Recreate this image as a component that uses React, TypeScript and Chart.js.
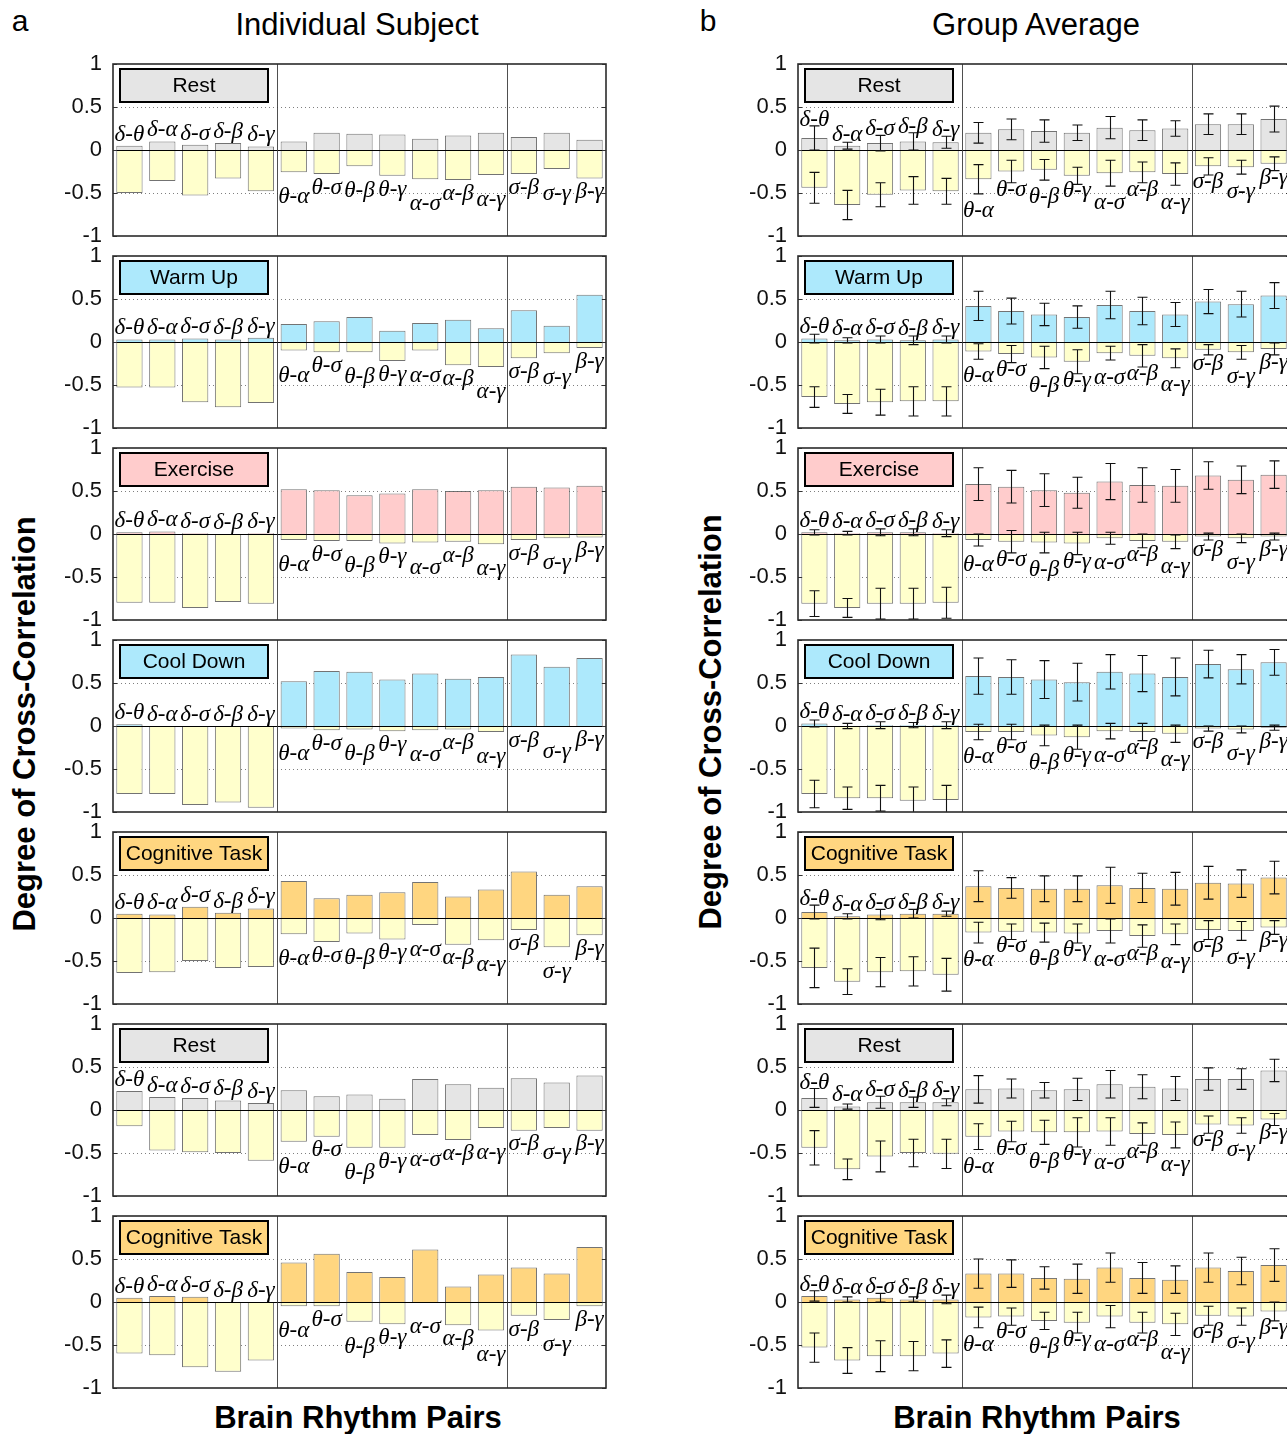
import React, { useEffect, useRef } from 'react';
import { Chart, registerables } from 'chart.js';

Chart.register(...registerables);

// ---------------- DATA ----------------
const pairLabels = ['δ-θ', 'δ-α', 'δ-σ', 'δ-β', 'δ-γ', 'θ-α', 'θ-σ', 'θ-β', 'θ-γ', 'α-σ', 'α-β', 'α-γ', 'σ-β', 'σ-γ', 'β-γ'];
const yTickValues = [-1, -0.5, 0, 0.5, 1];
const stateSequence = ['Rest', 'Warm Up', 'Exercise', 'Cool Down', 'Cognitive Task', 'Rest', 'Cognitive Task'];
const groupBreaks = [5, 12];
const dottedLevels = [-0.5, 0.5];

// Individual subject (column a)
const indRest1Pos = [0.05, 0.10, 0.06, 0.08, 0.04, 0.10, 0.20, 0.19, 0.18, 0.13, 0.17, 0.20, 0.15, 0.20, 0.12];
const indRest1Neg = [-0.50, -0.36, -0.53, -0.33, -0.48, -0.26, -0.28, -0.19, -0.30, -0.34, -0.35, -0.29, -0.28, -0.22, -0.33];
const indWarmPos = [0.03, 0.03, 0.04, 0.03, 0.05, 0.21, 0.24, 0.29, 0.13, 0.22, 0.26, 0.16, 0.37, 0.19, 0.55];
const indWarmNeg = [-0.53, -0.53, -0.70, -0.76, -0.71, -0.10, -0.12, -0.12, -0.22, -0.10, -0.27, -0.29, -0.19, -0.13, -0.07];
const indExercisePos = [0.02, 0.03, 0.01, 0.00, 0.01, 0.52, 0.51, 0.45, 0.47, 0.52, 0.50, 0.51, 0.55, 0.54, 0.56];
const indExerciseNeg = [-0.80, -0.80, -0.86, -0.79, -0.81, -0.07, -0.08, -0.08, -0.11, -0.10, -0.09, -0.12, -0.07, -0.05, -0.04];
const indCoolPos = [0.02, 0.00, 0.00, 0.00, 0.00, 0.52, 0.64, 0.63, 0.54, 0.61, 0.55, 0.57, 0.83, 0.69, 0.79];
const indCoolNeg = [-0.79, -0.79, -0.92, -0.89, -0.95, -0.03, -0.05, -0.04, -0.06, -0.05, -0.04, -0.07, -0.01, -0.01, 0.00];
const indCog1Pos = [0.05, 0.04, 0.13, 0.06, 0.11, 0.43, 0.23, 0.27, 0.30, 0.42, 0.25, 0.33, 0.54, 0.27, 0.37];
const indCog1Neg = [-0.64, -0.63, -0.50, -0.58, -0.57, -0.19, -0.28, -0.18, -0.25, -0.08, -0.31, -0.26, -0.14, -0.34, -0.20];
const indRest2Pos = [0.22, 0.15, 0.14, 0.11, 0.08, 0.23, 0.16, 0.18, 0.13, 0.36, 0.30, 0.26, 0.37, 0.32, 0.40];
const indRest2Neg = [-0.19, -0.47, -0.49, -0.50, -0.59, -0.37, -0.31, -0.44, -0.44, -0.29, -0.35, -0.21, -0.24, -0.21, -0.24];
const indCog2Pos = [0.05, 0.07, 0.06, 0.00, 0.00, 0.46, 0.56, 0.35, 0.29, 0.61, 0.18, 0.32, 0.40, 0.33, 0.64];
const indCog2Neg = [-0.60, -0.62, -0.76, -0.81, -0.68, -0.05, -0.05, -0.23, -0.26, 0.00, -0.27, -0.33, -0.16, -0.21, -0.05];

// Group average (column b)
const grpRest1Pos = [0.14, 0.05, 0.08, 0.10, 0.09, 0.20, 0.24, 0.22, 0.20, 0.26, 0.23, 0.25, 0.30, 0.30, 0.36];
const grpRest1PosErr = [0.14, 0.04, 0.09, 0.10, 0.07, 0.12, 0.12, 0.13, 0.09, 0.13, 0.12, 0.09, 0.12, 0.12, 0.15];
const grpRest1Neg = [-0.44, -0.64, -0.52, -0.47, -0.48, -0.34, -0.25, -0.23, -0.30, -0.27, -0.26, -0.28, -0.19, -0.20, -0.16];
const grpRest1NegErr = [0.18, 0.17, 0.14, 0.16, 0.15, 0.17, 0.13, 0.12, 0.10, 0.15, 0.12, 0.13, 0.10, 0.08, 0.08];

const grpWarmPos = [0.04, 0.02, 0.03, 0.02, 0.03, 0.42, 0.36, 0.32, 0.29, 0.43, 0.36, 0.32, 0.47, 0.44, 0.54];
const grpWarmPosErr = [0.05, 0.03, 0.04, 0.05, 0.04, 0.17, 0.15, 0.13, 0.13, 0.16, 0.16, 0.14, 0.14, 0.15, 0.15];
const grpWarmNeg = [-0.64, -0.72, -0.70, -0.69, -0.69, -0.11, -0.14, -0.18, -0.23, -0.13, -0.16, -0.19, -0.09, -0.12, -0.08];
const grpWarmNegErr = [0.12, 0.11, 0.15, 0.17, 0.17, 0.09, 0.10, 0.13, 0.14, 0.08, 0.13, 0.11, 0.06, 0.08, 0.07];

const grpExercisePos = [0.02, 0.01, 0.02, 0.02, 0.01, 0.58, 0.55, 0.51, 0.48, 0.61, 0.57, 0.56, 0.68, 0.63, 0.69];
const grpExercisePosErr = [0.03, 0.02, 0.04, 0.04, 0.04, 0.19, 0.19, 0.19, 0.18, 0.21, 0.20, 0.19, 0.16, 0.16, 0.16];
const grpExerciseNeg = [-0.81, -0.86, -0.81, -0.81, -0.80, -0.07, -0.09, -0.10, -0.11, -0.05, -0.08, -0.09, -0.03, -0.05, -0.03];
const grpExerciseNegErr = [0.15, 0.11, 0.18, 0.18, 0.18, 0.07, 0.13, 0.12, 0.13, 0.07, 0.08, 0.08, 0.04, 0.05, 0.04];

const grpCoolPos = [0.03, 0.00, 0.01, 0.01, 0.01, 0.58, 0.57, 0.54, 0.51, 0.63, 0.61, 0.57, 0.72, 0.66, 0.74];
const grpCoolPosErr = [0.04, 0.03, 0.04, 0.03, 0.04, 0.21, 0.20, 0.22, 0.22, 0.20, 0.21, 0.22, 0.16, 0.17, 0.15];
const grpCoolNeg = [-0.79, -0.84, -0.84, -0.87, -0.86, -0.07, -0.07, -0.11, -0.13, -0.06, -0.07, -0.09, -0.03, -0.04, -0.02];
const grpCoolNegErr = [0.16, 0.13, 0.15, 0.16, 0.17, 0.09, 0.09, 0.12, 0.14, 0.09, 0.10, 0.10, 0.03, 0.04, 0.03];

const grpCog1Pos = [0.07, 0.02, 0.04, 0.05, 0.05, 0.37, 0.35, 0.34, 0.34, 0.38, 0.35, 0.34, 0.41, 0.40, 0.47];
const grpCog1PosErr = [0.08, 0.03, 0.06, 0.05, 0.03, 0.18, 0.12, 0.15, 0.15, 0.21, 0.17, 0.19, 0.19, 0.16, 0.19];
const grpCog1Neg = [-0.58, -0.74, -0.63, -0.62, -0.66, -0.17, -0.16, -0.17, -0.18, -0.15, -0.21, -0.19, -0.14, -0.15, -0.11];
const grpCog1NegErr = [0.23, 0.15, 0.17, 0.17, 0.19, 0.12, 0.09, 0.11, 0.11, 0.14, 0.13, 0.12, 0.11, 0.11, 0.08];

const grpRest2Pos = [0.14, 0.04, 0.09, 0.09, 0.09, 0.24, 0.25, 0.23, 0.24, 0.30, 0.27, 0.25, 0.36, 0.36, 0.46];
const grpRest2PosErr = [0.11, 0.03, 0.07, 0.06, 0.04, 0.16, 0.11, 0.09, 0.13, 0.16, 0.14, 0.14, 0.13, 0.12, 0.13];
const grpRest2Neg = [-0.44, -0.69, -0.54, -0.50, -0.51, -0.31, -0.25, -0.26, -0.26, -0.25, -0.28, -0.29, -0.17, -0.18, -0.11];
const grpRest2NegErr = [0.20, 0.12, 0.18, 0.16, 0.17, 0.15, 0.12, 0.14, 0.17, 0.16, 0.13, 0.15, 0.10, 0.09, 0.07];

const grpCog2Pos = [0.07, 0.03, 0.05, 0.03, 0.03, 0.33, 0.33, 0.28, 0.27, 0.40, 0.28, 0.26, 0.40, 0.36, 0.43];
const grpCog2PosErr = [0.06, 0.03, 0.05, 0.03, 0.05, 0.17, 0.16, 0.13, 0.17, 0.17, 0.18, 0.16, 0.17, 0.16, 0.19];
const grpCog2Neg = [-0.53, -0.68, -0.63, -0.63, -0.60, -0.18, -0.17, -0.22, -0.24, -0.17, -0.24, -0.26, -0.16, -0.17, -0.11];
const grpCog2NegErr = [0.17, 0.15, 0.18, 0.17, 0.16, 0.12, 0.10, 0.10, 0.12, 0.13, 0.12, 0.13, 0.11, 0.10, 0.11];

// ---------------- STYLE ----------------
const FONT_SANS = '"Liberation Sans", Arial, Helvetica, sans-serif';
const FONT_SERIF = '"Liberation Serif", "Times New Roman", serif';
const stateFill: Record<string, string> = {
  'Rest': 'rgb(229,229,229)',
  'Warm Up': 'rgb(173,233,252)',
  'Exercise': 'rgb(255,204,204)',
  'Cool Down': 'rgb(173,233,252)',
  'Cognitive Task': 'rgb(255,214,128)',
};
const negFill = 'rgb(255,255,204)';
const barEdge = 'rgba(90,90,90,0.85)';

const PANEL_TOP0 = 64;
const PANEL_STEP = 192;
const PANEL_H = 172;
const AXIS_W = 60;
const PAD_TOP = 14;
const PAD_BOTTOM = 14;
const PAD_RIGHT = 4;

type PanelSpec = {
  state: string;
  pos: number[];
  neg: number[];
  posErr?: number[];
  negErr?: number[];
  group: boolean;
};

const individualPanels: PanelSpec[] = [
  { state: stateSequence[0], pos: indRest1Pos, neg: indRest1Neg, group: false },
  { state: stateSequence[1], pos: indWarmPos, neg: indWarmNeg, group: false },
  { state: stateSequence[2], pos: indExercisePos, neg: indExerciseNeg, group: false },
  { state: stateSequence[3], pos: indCoolPos, neg: indCoolNeg, group: false },
  { state: stateSequence[4], pos: indCog1Pos, neg: indCog1Neg, group: false },
  { state: stateSequence[5], pos: indRest2Pos, neg: indRest2Neg, group: false },
  { state: stateSequence[6], pos: indCog2Pos, neg: indCog2Neg, group: false },
];

const groupPanels: PanelSpec[] = [
  { state: stateSequence[0], pos: grpRest1Pos, posErr: grpRest1PosErr, neg: grpRest1Neg, negErr: grpRest1NegErr, group: true },
  { state: stateSequence[1], pos: grpWarmPos, posErr: grpWarmPosErr, neg: grpWarmNeg, negErr: grpWarmNegErr, group: true },
  { state: stateSequence[2], pos: grpExercisePos, posErr: grpExercisePosErr, neg: grpExerciseNeg, negErr: grpExerciseNegErr, group: true },
  { state: stateSequence[3], pos: grpCoolPos, posErr: grpCoolPosErr, neg: grpCoolNeg, negErr: grpCoolNegErr, group: true },
  { state: stateSequence[4], pos: grpCog1Pos, posErr: grpCog1PosErr, neg: grpCog1Neg, negErr: grpCog1NegErr, group: true },
  { state: stateSequence[5], pos: grpRest2Pos, posErr: grpRest2PosErr, neg: grpRest2Neg, negErr: grpRest2NegErr, group: true },
  { state: stateSequence[6], pos: grpCog2Pos, posErr: grpCog2PosErr, neg: grpCog2Neg, negErr: grpCog2NegErr, group: true },
];

// label centre (in data units) - placed above the delta bars, below the others, staggered
function labelValue(spec: PanelSpec, i: number): number {
  const p = spec.pos[i];
  const n = spec.neg[i];
  if (i < groupBreaks[0]) {
    const base = p + 0.13;
    if (!spec.group || !spec.posErr) return base;
    return Math.max(base, p + spec.posErr[i] + 0.07);
  }
  const even = (i - groupBreaks[0]) % 2 === 0;
  const base = n - (even ? 0.29 : 0.16);
  if (!spec.group || !spec.negErr) return base;
  return Math.min(base, n - spec.negErr[i] - (even ? 0.2 : 0.08));
}

function makeDeco(spec: PanelSpec) {
  return {
    id: 'panelDeco',
    beforeDatasetsDraw(chart: any) {
      const { ctx, chartArea: a } = chart;
      const y = chart.scales.y;
      ctx.save();
      ctx.strokeStyle = 'rgba(0,0,0,0.5)';
      ctx.lineWidth = 1;
      ctx.setLineDash([1, 3]);
      for (const v of dottedLevels) {
        const py = Math.round(y.getPixelForValue(v)) + 0.5;
        ctx.beginPath();
        ctx.moveTo(a.left, py);
        ctx.lineTo(a.right, py);
        ctx.stroke();
      }
      ctx.restore();
    },
    afterDatasetsDraw(chart: any) {
      const { ctx, chartArea: a } = chart;
      const x = chart.scales.x;
      const y = chart.scales.y;
      ctx.save();
      // zero line
      const y0 = Math.round(y.getPixelForValue(0)) + 0.5;
      ctx.strokeStyle = '#000';
      ctx.lineWidth = 1;
      ctx.beginPath();
      ctx.moveTo(a.left, y0);
      ctx.lineTo(a.right, y0);
      ctx.stroke();
      // group separators
      ctx.strokeStyle = 'rgba(60,60,60,0.9)';
      for (const b of groupBreaks) {
        const px = Math.round((x.getPixelForValue(b - 1) + x.getPixelForValue(b)) / 2) + 0.5;
        ctx.beginPath();
        ctx.moveTo(px, a.top);
        ctx.lineTo(px, a.bottom);
        ctx.stroke();
      }
      // error bars
      if (spec.posErr && spec.negErr) {
        ctx.save();
        ctx.beginPath();
        ctx.rect(a.left, a.top, a.right - a.left, a.bottom - a.top);
        ctx.clip();
        ctx.strokeStyle = '#111';
        ctx.lineWidth = 1.1;
        const cap = 5;
        const drawErr = (px: number, v: number, e: number) => {
          const yt = y.getPixelForValue(v + e);
          const yb = y.getPixelForValue(v - e);
          ctx.beginPath();
          ctx.moveTo(px, yt);
          ctx.lineTo(px, yb);
          ctx.moveTo(px - cap, yt);
          ctx.lineTo(px + cap, yt);
          ctx.moveTo(px - cap, yb);
          ctx.lineTo(px + cap, yb);
          ctx.stroke();
        };
        for (let i = 0; i < pairLabels.length; i++) {
          const px = Math.round(x.getPixelForValue(i)) + 0.5;
          drawErr(px, spec.pos[i], spec.posErr[i]);
          drawErr(px, spec.neg[i], spec.negErr[i]);
        }
        ctx.restore();
      }
      // pair labels
      ctx.fillStyle = '#000';
      ctx.font = 'italic 23px ' + FONT_SERIF;
      ctx.textAlign = 'center';
      ctx.textBaseline = 'middle';
      for (let i = 0; i < pairLabels.length; i++) {
        const px = x.getPixelForValue(i);
        const py = y.getPixelForValue(labelValue(spec, i));
        ctx.fillText(pairLabels[i], px, py);
      }
      // inner ticks
      ctx.strokeStyle = '#333';
      ctx.lineWidth = 1;
      for (const v of yTickValues) {
        const py = Math.round(y.getPixelForValue(v)) + 0.5;
        ctx.beginPath();
        ctx.moveTo(a.left, py);
        ctx.lineTo(a.left + 4, py);
        ctx.moveTo(a.right, py);
        ctx.lineTo(a.right - 4, py);
        ctx.stroke();
      }
      // frame
      ctx.strokeStyle = '#2b2b2b';
      ctx.lineWidth = 1.6;
      ctx.strokeRect(a.left, a.top, a.right - a.left, a.bottom - a.top);
      // state box
      const bx = a.left + 7;
      const by = a.top + 5;
      const bw = 148;
      const bh = 33;
      ctx.fillStyle = stateFill[spec.state];
      ctx.fillRect(bx, by, bw, bh);
      ctx.strokeStyle = '#000';
      ctx.lineWidth = 2;
      ctx.strokeRect(bx, by, bw, bh);
      ctx.fillStyle = '#000';
      ctx.font = '21px ' + FONT_SANS;
      ctx.textAlign = 'center';
      ctx.textBaseline = 'middle';
      ctx.fillText(spec.state, bx + bw / 2, by + bh / 2 + 1);
      ctx.restore();
    },
  };
}

function Panel({ spec, plotLeft, plotWidth, top }: { spec: PanelSpec; plotLeft: number; plotWidth: number; top: number }) {
  const ref = useRef<HTMLCanvasElement | null>(null);
  const W = AXIS_W + plotWidth + PAD_RIGHT;
  const H = PANEL_H + PAD_TOP + PAD_BOTTOM;
  useEffect(() => {
    if (!ref.current) return;
    const chart = new Chart(ref.current, {
      type: 'bar',
      data: {
        labels: pairLabels,
        datasets: [
          {
            label: 'positive',
            data: spec.pos,
            backgroundColor: stateFill[spec.state],
            borderColor: barEdge,
            borderWidth: 1,
            grouped: false,
            barPercentage: 0.8,
            categoryPercentage: 1,
          },
          {
            label: 'negative',
            data: spec.neg,
            backgroundColor: negFill,
            borderColor: barEdge,
            borderWidth: 1,
            grouped: false,
            barPercentage: 0.8,
            categoryPercentage: 1,
          },
        ],
      } as any,
      options: {
        animation: false,
        responsive: false,
        maintainAspectRatio: false,
        devicePixelRatio: 1,
        layout: { padding: { top: PAD_TOP, bottom: PAD_BOTTOM, left: 0, right: PAD_RIGHT } },
        plugins: { legend: { display: false }, tooltip: { enabled: false } },
        scales: {
          x: { display: false, offset: true },
          y: {
            min: -1,
            max: 1,
            afterFit: (s: any) => {
              s.width = AXIS_W;
              s.paddingTop = 0;
              s.paddingBottom = 0;
              s.paddingLeft = 0;
              s.paddingRight = 0;
            },
            afterBuildTicks: (s: any) => {
              s.ticks = yTickValues.map((v) => ({ value: v }));
            },
            ticks: {
              padding: 11,
              color: '#111',
              font: { family: FONT_SANS, size: 22 },
              callback: (v: any) => String(Number(v)),
            },
            grid: { display: false, drawTicks: false },
            border: { display: false },
          },
        },
      } as any,
      plugins: [makeDeco(spec)],
    });
    return () => chart.destroy();
  }, []);
  return (
    <canvas
      ref={ref}
      width={W}
      height={H}
      style={{ position: 'absolute', left: plotLeft - AXIS_W, top: top - PAD_TOP, width: W, height: H }}
    />
  );
}

function Txt({ x, y, size, bold, rotate, children }: { x: number; y: number; size: number; bold?: boolean; rotate?: boolean; children: any }) {
  return (
    <div
      style={{
        position: 'absolute',
        left: x,
        top: y,
        transform: 'translate(-50%, -50%)' + (rotate ? ' rotate(-90deg)' : ''),
        fontFamily: FONT_SANS,
        fontSize: size,
        fontWeight: bold ? 700 : 400,
        lineHeight: 1,
        whiteSpace: 'nowrap',
        color: '#000',
      }}
    >
      {children}
    </div>
  );
}

export default function App() {
  return (
    <div style={{ position: 'relative', width: 1287, height: 1434, overflow: 'hidden', background: '#fff' }}>
      <style>{'html,body{margin:0;padding:0;background:#fff;overflow:hidden;}'}</style>
      <Txt x={20} y={21} size={30}>a</Txt>
      <Txt x={708} y={21} size={30}>b</Txt>
      <Txt x={357} y={24} size={31}>Individual Subject</Txt>
      <Txt x={1036} y={24} size={31}>Group Average</Txt>
      <Txt x={24} y={724} size={31} bold rotate>Degree of Cross-Correlation</Txt>
      <Txt x={710} y={722} size={31} bold rotate>Degree of Cross-Correlation</Txt>
      <Txt x={358} y={1417} size={31} bold>Brain Rhythm Pairs</Txt>
      <Txt x={1037} y={1417} size={31} bold>Brain Rhythm Pairs</Txt>
      {individualPanels.map((p, i) => (
        <Panel key={'a' + i} spec={p} plotLeft={113} plotWidth={493} top={PANEL_TOP0 + i * PANEL_STEP} />
      ))}
      {groupPanels.map((p, i) => (
        <Panel key={'b' + i} spec={p} plotLeft={798} plotWidth={492} top={PANEL_TOP0 + i * PANEL_STEP} />
      ))}
    </div>
  );
}
